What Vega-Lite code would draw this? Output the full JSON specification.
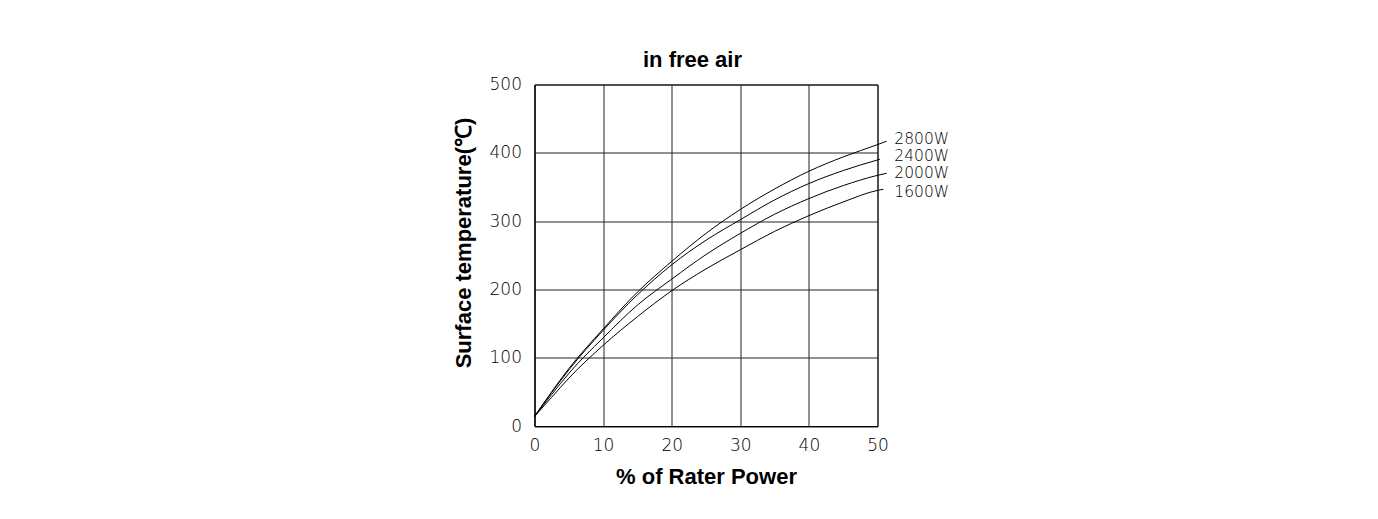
{
  "$schema": "https://vega.github.io/schema/vega-lite/v6.json",
  "width": 343,
  "height": 341.5,
  "autosize": {"type": "none"},
  "padding": {"left": 534.5, "top": 84.5, "right": 500.5, "bottom": 93},
  "background": "white",
  "title": {"text": "in free air", "font": "Liberation Sans", "fontSize": 22, "fontWeight": "bold", "color": "black", "anchor": "middle", "baseline": "alphabetic", "offset": 18, "dx": -13.5, "dy": 31},
  "config": {
    "view": {"stroke": "black", "strokeWidth": 1},
    "axis": {
      "labelFont": "DejaVu Sans", "labelFontSize": 17, "labelFontWeight": 200, "labelColor": "black", "labelFlush": false,
      "titleFont": "Liberation Sans", "titleFontSize": 22, "titleFontWeight": "bold", "titleColor": "black",
      "domainColor": "black", "domainWidth": 1, "gridColor": "#222", "gridWidth": 1, "gridOpacity": 1,
      "ticks": false, "tickSize": 0
    }
  },
  "datasets": {
    "curves": [
      {"series": "2800W", "pct": 0, "temp": 14}, {"series": "2800W", "pct": 2.5, "temp": 50}, {"series": "2800W", "pct": 5, "temp": 84},
      {"series": "2800W", "pct": 10, "temp": 142}, {"series": "2800W", "pct": 15, "temp": 196}, {"series": "2800W", "pct": 20, "temp": 241},
      {"series": "2800W", "pct": 25, "temp": 282}, {"series": "2800W", "pct": 30, "temp": 317}, {"series": "2800W", "pct": 35, "temp": 347},
      {"series": "2800W", "pct": 40, "temp": 373}, {"series": "2800W", "pct": 45, "temp": 394}, {"series": "2800W", "pct": 50, "temp": 412},
      {"series": "2800W", "pct": 51.34, "temp": 417},
      {"series": "2400W", "pct": 0, "temp": 14}, {"series": "2400W", "pct": 2.5, "temp": 49}, {"series": "2400W", "pct": 5, "temp": 82},
      {"series": "2400W", "pct": 10, "temp": 140}, {"series": "2400W", "pct": 15, "temp": 192}, {"series": "2400W", "pct": 20, "temp": 236},
      {"series": "2400W", "pct": 25, "temp": 272}, {"series": "2400W", "pct": 30, "temp": 302}, {"series": "2400W", "pct": 35, "temp": 331},
      {"series": "2400W", "pct": 40, "temp": 355}, {"series": "2400W", "pct": 45, "temp": 374}, {"series": "2400W", "pct": 50, "temp": 389.5},
      {"series": "2400W", "pct": 50.36, "temp": 390.5},
      {"series": "2000W", "pct": 0, "temp": 14}, {"series": "2000W", "pct": 2.5, "temp": 46}, {"series": "2000W", "pct": 5, "temp": 77},
      {"series": "2000W", "pct": 10, "temp": 129}, {"series": "2000W", "pct": 15, "temp": 177}, {"series": "2000W", "pct": 20, "temp": 215},
      {"series": "2000W", "pct": 25, "temp": 251}, {"series": "2000W", "pct": 30, "temp": 282}, {"series": "2000W", "pct": 35, "temp": 310},
      {"series": "2000W", "pct": 40, "temp": 333}, {"series": "2000W", "pct": 45, "temp": 352}, {"series": "2000W", "pct": 50, "temp": 367},
      {"series": "2000W", "pct": 51.34, "temp": 370},
      {"series": "1600W", "pct": 0, "temp": 14}, {"series": "1600W", "pct": 2.5, "temp": 42}, {"series": "1600W", "pct": 5, "temp": 70},
      {"series": "1600W", "pct": 10, "temp": 118}, {"series": "1600W", "pct": 15, "temp": 160}, {"series": "1600W", "pct": 20, "temp": 198},
      {"series": "1600W", "pct": 25, "temp": 230}, {"series": "1600W", "pct": 30, "temp": 258}, {"series": "1600W", "pct": 35, "temp": 285},
      {"series": "1600W", "pct": 40, "temp": 308}, {"series": "1600W", "pct": 45, "temp": 328}, {"series": "1600W", "pct": 50, "temp": 345},
      {"series": "1600W", "pct": 50.86, "temp": 346.6}
    ],
    "labels": [
      {"series": "2800W", "pct": 52.45, "temp": 419.5},
      {"series": "2400W", "pct": 52.45, "temp": 395},
      {"series": "2000W", "pct": 52.45, "temp": 370.5},
      {"series": "1600W", "pct": 52.45, "temp": 342}
    ]
  },
  "layer": [
    {
      "data": {"name": "curves"},
      "mark": {"type": "line", "color": "black", "strokeWidth": 1, "interpolate": "monotone", "clip": false},
      "encoding": {
        "x": {"field": "pct", "type": "quantitative", "title": "% of Rater Power",
              "scale": {"domain": [0, 50], "nice": false, "zero": false},
              "axis": {"values": [0, 10, 20, 30, 40, 50], "labelPadding": 11, "titlePadding": 13, "grid": true}},
        "y": {"field": "temp", "type": "quantitative", "title": "Surface temperature(℃)",
              "scale": {"domain": [0, 500], "nice": false},
              "axis": {"values": [0, 100, 200, 300, 400, 500], "labelPadding": 13, "titlePadding": 14, "titleY": 158, "grid": true}},
        "detail": {"field": "series", "type": "nominal"},
        "order": {"field": "pct", "type": "quantitative"}
      }
    },
    {
      "data": {"name": "labels"},
      "mark": {"type": "text", "align": "left", "baseline": "middle", "font": "DejaVu Sans", "fontSize": 15.5, "fontWeight": 200, "color": "black"},
      "encoding": {
        "x": {"field": "pct", "type": "quantitative", "title": "% of Rater Power"},
        "y": {"field": "temp", "type": "quantitative", "title": "Surface temperature(℃)"},
        "text": {"field": "series", "type": "nominal"}
      }
    }
  ]
}
